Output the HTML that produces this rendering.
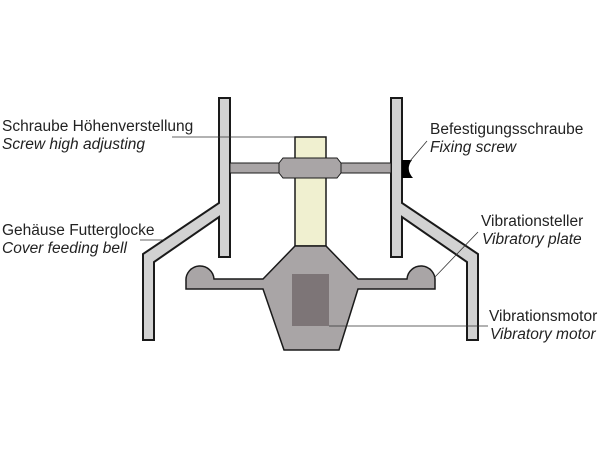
<!DOCTYPE html>
<html><head><meta charset="utf-8"><style>
html,body{margin:0;padding:0;background:#fff;width:600px;height:450px;overflow:hidden}
svg{display:block}
text{font-family:"Liberation Sans",sans-serif;font-size:15.5px;fill:#222}
.i{font-style:italic}
</style></head><body>
<svg width="600" height="450" viewBox="0 0 600 450" xmlns="http://www.w3.org/2000/svg">
<g stroke="#1a1a1a" stroke-width="2" stroke-linejoin="miter" fill="#d2d2d2">
<path d="M219,98 L230,98 L230,257 L219,257 L219,217 L154,262 L154,340 L143,340 L143,254 L219,203 Z"/>
<path d="M402,98 L391,98 L391,257 L402,257 L402,217 L467,262 L467,340 L478,340 L478,254 L402,203 Z"/>
<rect x="295" y="137" width="31" height="109" fill="#f0f0d0" stroke-width="1.5"/>
</g>
<!-- rod -->
<rect x="230" y="163" width="161" height="10" fill="#a9a5a6" stroke="#1a1a1a" stroke-width="1"/>
<polygon points="283,158 337,158 341,163 341,173 337,178 283,178 279,173 279,163" fill="#a9a5a6" stroke="#1a1a1a" stroke-width="1"/>
<!-- screw -->
<path d="M402,160 L412,160 Q405,169 413,178 L402,178 Z" fill="#000"/>
<!-- body -->
<path d="M186,289 L186,281 A14,14 0 0 1 214,279 L263,279 L295,246 L326,246 L358,279 L407,279 A14,14 0 0 1 435,281 L435,289 L358,289 L339,350 L284,350 L263,289 Z" fill="#a9a5a6" stroke="#1a1a1a" stroke-width="1.5"/>
<rect x="292" y="274" width="37" height="52" fill="#7d7577"/>
<!-- leaders -->
<g stroke="#333" stroke-width="0.8" fill="none">
<line x1="172" y1="137" x2="295" y2="137"/>
<line x1="140" y1="240" x2="165" y2="240"/>
<line x1="410" y1="161" x2="427" y2="141"/>
<line x1="434" y1="278" x2="478" y2="232"/>
<line x1="329" y1="326" x2="488" y2="326"/>
</g>
<text x="2" y="131">Schraube Höhenverstellung</text>
<text x="2" y="149" class="i">Screw high adjusting</text>
<text x="2" y="235">Gehäuse Futterglocke</text>
<text x="2" y="253" class="i">Cover feeding bell</text>
<text x="430" y="134">Befestigungsschraube</text>
<text x="430" y="152" class="i">Fixing screw</text>
<text x="481" y="226">Vibrationsteller</text>
<text x="482" y="244" class="i">Vibratory plate</text>
<text x="489" y="321">Vibrationsmotor</text>
<text x="490" y="339" class="i">Vibratory motor</text>
</svg>
</body></html>
